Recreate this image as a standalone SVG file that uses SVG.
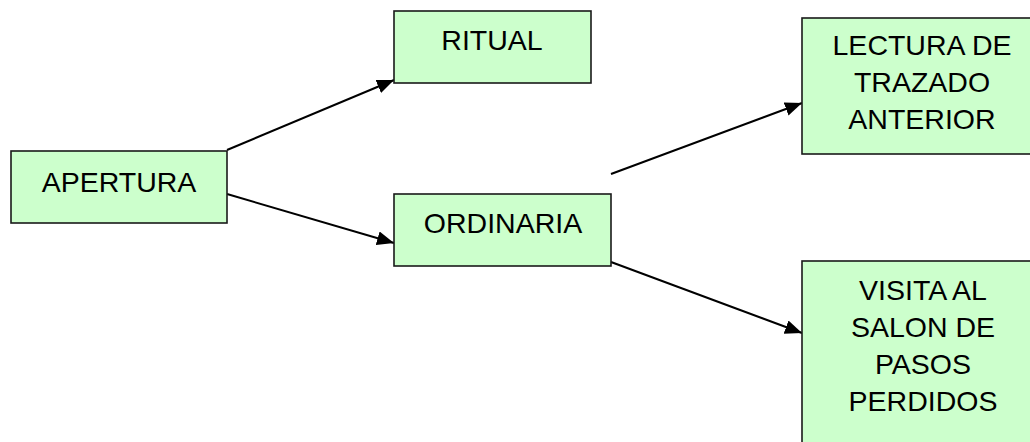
<svg xmlns="http://www.w3.org/2000/svg" width="1030" height="442" viewBox="0 0 1030 442">
<defs>
<style>
.box{fill:#CCFFCC;stroke:#1a1a1a;stroke-width:1.6}
.lbl{font-family:"Liberation Sans",Arial,sans-serif;font-size:28.5px;fill:#000;text-anchor:middle}
.con{stroke:#000;stroke-width:2;fill:none}
</style>
<marker id="arr" markerUnits="userSpaceOnUse" markerWidth="18" markerHeight="15" refX="17" refY="7" orient="auto">
<path d="M0,0 L17,7 L0,14 z" fill="#000"/>
</marker>
</defs>
<rect width="1030" height="442" fill="#fff"/>
<g id="connectors">
<line class="con" x1="227" y1="150" x2="394" y2="80" marker-end="url(#arr)"/>
<line class="con" x1="227" y1="194" x2="394" y2="243" marker-end="url(#arr)"/>
<line class="con" x1="611" y1="174" x2="802" y2="103" marker-end="url(#arr)"/>
<line class="con" x1="611" y1="262" x2="802" y2="333" marker-end="url(#arr)"/>
</g>
<g id="apertura">
<rect class="box" x="11" y="151" width="216" height="72"/>
<text class="lbl" x="119" y="192">APERTURA</text>
</g>
<g id="ritual">
<rect class="box" x="394" y="11" width="197" height="72"/>
<text class="lbl" x="492" y="50">RITUAL</text>
</g>
<g id="ordinaria">
<rect class="box" x="394" y="194" width="217" height="72"/>
<text class="lbl" x="503" y="233">ORDINARIA</text>
</g>
<g id="lectura">
<rect class="box" x="802" y="18" width="240" height="136"/>
<text class="lbl" x="922" y="55">LECTURA DE</text>
<text class="lbl" x="922" y="92">TRAZADO</text>
<text class="lbl" x="922" y="129">ANTERIOR</text>
</g>
<g id="visita">
<rect class="box" x="802" y="261" width="240" height="200"/>
<text class="lbl" x="923" y="300">VISITA AL</text>
<text class="lbl" x="923" y="337">SALON DE</text>
<text class="lbl" x="923" y="374">PASOS</text>
<text class="lbl" x="923" y="411">PERDIDOS</text>
</g>
</svg>
